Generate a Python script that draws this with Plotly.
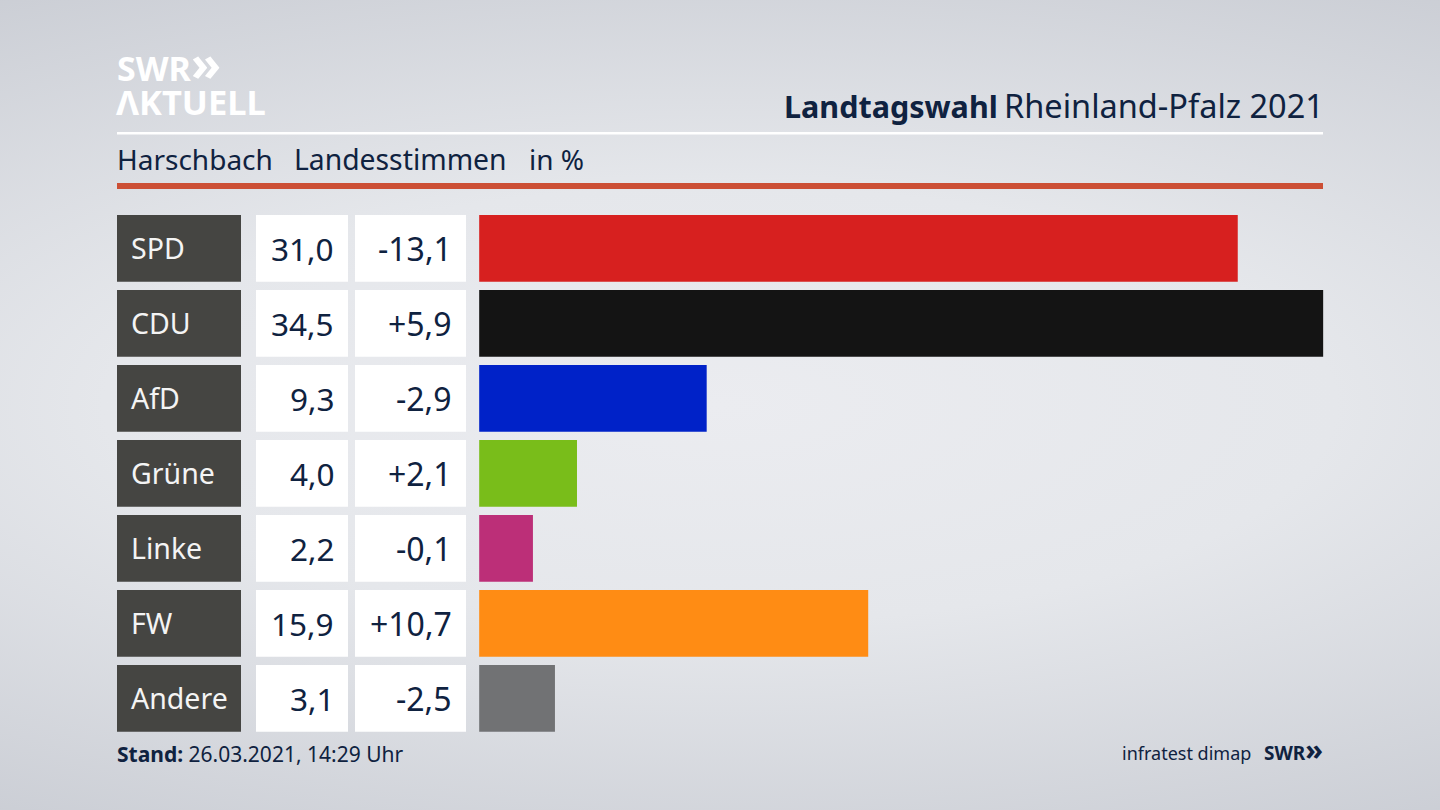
import plotly.graph_objects as go

W, H = 1440, 810

# Daten
parteien = ["SPD", "CDU", "AfD", "Grüne", "Linke", "FW", "Andere"]
anteile = [31.0, 34.5, 9.3, 4.0, 2.2, 15.9, 3.1]
differenz = [-13.1, 5.9, -2.9, 2.1, -0.1, 10.7, -2.5]
farben = ["#d7201f", "#141414", "#0022c8", "#79bd1a", "#bc2f78", "#ff8c14", "#717274"]

NAVY = "#0f2240"
FONT = "Noto Sans"


def px_x(v):
    return v / W


def px_y(v):
    return 1 - v / H


def de(v, sign=False):
    s = f"{v:+.1f}" if sign else f"{v:.1f}"
    return s.replace(".", ",")


fig = go.Figure()
fig.add_trace(go.Bar(y=parteien, x=anteile, orientation="h", marker_color=farben,
                     marker_line_width=0, hoverinfo="skip"))

shapes = []
annos = []


def text(x, y, s, size, color=NAVY, xanchor="left", yref="paper", yshift=1):
    # annotation padding ausgleichen
    dx = -2.5 if xanchor == "left" else 2.5
    annos.append(dict(x=px_x(x), y=y, xref="paper", yref=yref, text=s, showarrow=False,
                      xanchor=xanchor, yanchor="middle", xshift=dx, yshift=yshift,
                      font=dict(family=FONT, size=size, color=color)))


# Tabelle links neben den Balken
halb = 66.8 / 75 / 2
for i, p in enumerate(parteien):
    for x0, x1, col in [(117, 241, "#454542"), (256, 348, "white"), (355, 466, "white")]:
        shapes.append(dict(type="rect", xref="paper", yref="y", x0=px_x(x0), x1=px_x(x1),
                           y0=i - halb, y1=i + halb, fillcolor=col, line_width=0, layer="below"))
    text(131, i, p, 28.5, "#f4f4f4", yref="y", yshift=0)
    text(333, i, de(anteile[i]), 31.5, xanchor="right", yref="y", yshift=0)
    text(451, i, de(differenz[i], True), 32, xanchor="right", yref="y", yshift=0)

# Linien oben
shapes.append(dict(type="rect", xref="paper", yref="paper", x0=px_x(117), x1=px_x(1323),
                   y0=px_y(134.5), y1=px_y(132), fillcolor="white", line_width=0))
shapes.append(dict(type="rect", xref="paper", yref="paper", x0=px_x(117), x1=px_x(1323),
                   y0=px_y(189), y1=px_y(183), fillcolor="#cc4f35", line_width=0))

# Kopf
text(117, px_y(63.5), "<b>SWR<span style='font-size:49px'>»</span></b>", 34, "white")
text(116, px_y(103), "<b>ΛKTUELL</b>", 34.5, "white")
title = ("<b><span style='font-size:30.5px'>Landtagswahl</span></b>"
         " <span style='font-size:32.5px'>Rheinland-Pfalz 2021</span>")
text(1323, px_y(106), title, 24, xanchor="right")
text(117, px_y(160), "Harschbach", 28)
text(294, px_y(160), "Landesstimmen", 28.3)
text(529, px_y(160), "in %", 28)

# Fuss
text(117, px_y(755), "<b>Stand:</b> 26.03.2021, 14:29 Uhr", 21)
text(1122, px_y(754), "infratest dimap", 18)
text(1264, px_y(749.5), "<b>SWR<span style='font-size:29px'>»</span></b>", 19)

fig.update_layout(
    width=W, height=H,
    margin=dict(l=0, r=0, t=0, b=0),
    paper_bgcolor="rgba(0,0,0,0)",
    plot_bgcolor="rgba(0,0,0,0)",
    showlegend=False,
    bargap=8.2 / 75,
    shapes=shapes,
    annotations=annos,
    xaxis=dict(domain=[px_x(479.1), px_x(1323.4)], range=[0, 34.5], visible=False),
    yaxis=dict(domain=[px_y(735.9), px_y(210.9)], range=[6.5, -0.5], visible=False,
               type="category", categoryorder="array", categoryarray=parteien),
)

# Seitenhintergrund als Verlauf
post = """
document.body.style.margin = '0';
document.body.style.overflow = 'hidden';
document.body.style.background = 'radial-gradient(ellipse 95% 60% at 50% 50%, #ebecf0 0%, #e5e7eb 45%, #cbced5 100%)';
"""
fig.write_html("out.html", post_script=post, config=dict(displayModeBar=False))
